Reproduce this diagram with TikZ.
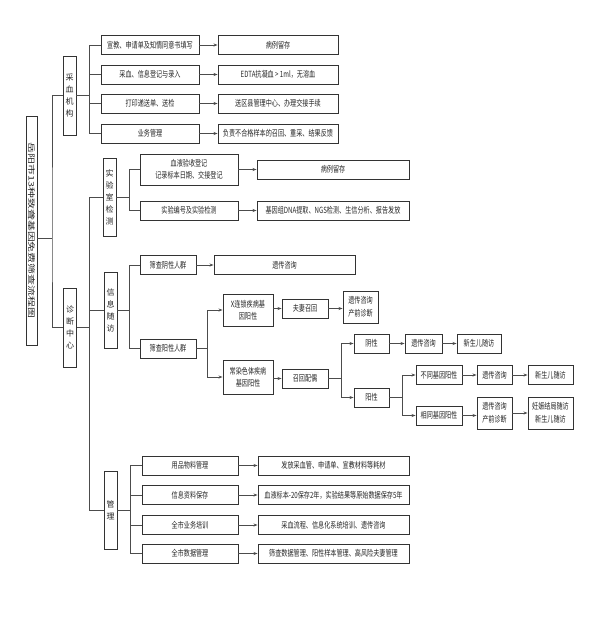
\documentclass[tikz,border=0pt]{standalone}
\usepackage{fontspec}
\newfontfamily\cjk{Noto Sans CJK SC}[FakeStretch=0.72]
\newfontfamily\cjkv{Noto Sans CJK SC}
\newfontfamily\cjkt{Noto Sans CJK SC}[FakeStretch=1.45]
\usetikzlibrary{arrows.meta}
\begin{document}
\begin{tikzpicture}[x=1pt,y=-1pt,
  box/.style={draw=black!80, line width=0.9pt, fill=white, inner sep=0pt, align=center,
    font=\cjk\fontsize{8.5}{12.5}\selectfont, text=black!85},
  vbox/.style={box, font=\cjkv\fontsize{8}{12}\selectfont},
  wh/.style 2 args={minimum width=#1pt, minimum height=#2pt},
  link/.style={draw=black!70, line width=0.8pt},
  arr/.style={link, -{Stealth[length=4pt,width=3pt]}}]
\useasboundingbox (0,0) rectangle (591,621);

% title
\node[box, rotate=-90, wh={229}{11}, font=\cjkt\fontsize{7.5}{9}\selectfont] (title) at (31.5,230.5) {岳阳市13种致聋基因免费筛查流程图};
\coordinate (j0) at (52,238);

% sampling institution
\node[vbox, wh={13}{79}] (caixue) at (69.5,95.5) {采\\血\\机\\构};
\node[box, wh={98}{19}] (a1) at (150,45) {宣教、申请单及知情同意书填写};
\node[box, wh={98}{19}] (a2) at (150,74.5) {采血、信息登记与录入};
\node[box, wh={98}{19}] (a3) at (150,103.5) {打印递送单、送检};
\node[box, wh={98}{19}] (a4) at (150,133.5) {业务管理};
\node[box, wh={120}{19}] (b1) at (278,45) {病例留存};
\node[box, wh={120}{19}] (b2) at (278,74.5) {EDTA抗凝血 > 1ml，无溶血};
\node[box, wh={120}{19}] (b3) at (278,103.5) {送区县管理中心、办理交接手续};
\node[box, wh={120}{19}] (b4) at (278,133.5) {负责不合格样本的召回、重采、结果反馈};
\coordinate (j1) at (89,95.5);

% diagnosis centre
\node[vbox, wh={13}{79}] (zhenduan) at (70,327.5) {诊\\断\\中\\心};
\coordinate (j2) at (89,327.5);

\node[vbox, wh={13}{78}] (shiyan) at (109.5,197) {实\\验\\室\\检\\测};
\coordinate (j3) at (129,197);
\node[box, wh={98}{31}] (c1) at (189,169.5) {血液验收登记\\记录标本日期、交接登记};
\node[box, wh={98}{19}] (c2) at (189,210.5) {实验编号及实验检测};
\node[box, wh={152}{19}] (d1) at (333,169.5) {病例留存};
\node[box, wh={152}{19}] (d2) at (333,210.5) {基因组DNA提取、NGS检测、生信分析、报告发放};

\node[vbox, wh={13}{76}] (suifang) at (110.5,310) {信\\息\\随\\访};
\coordinate (j4) at (129,310);
\node[box, wh={56}{19}] (e1) at (168,265) {筛查阴性人群};
\node[box, wh={56}{19}] (e2) at (168,348.5) {筛查阳性人群};
\node[box, wh={141}{19}] (f1) at (284.5,265) {遗传咨询};
\coordinate (j5) at (207,348.5);
\node[box, wh={50}{32}] (g1) at (248,310) {X连锁疾病基\\因阳性};
\node[box, wh={50}{34}] (g2) at (248,377) {常染色体疾病\\基因阳性};
\node[box, wh={46}{19}] (h1) at (305,308.5) {夫妻召回};
\node[box, wh={35}{32}] (h2) at (360.5,307) {遗传咨询\\产前诊断};
\node[box, wh={46}{19}] (k1) at (305,378.5) {召回配偶};
\coordinate (j6) at (341,378.5);
\node[box, wh={35}{19}] (m1) at (371.5,343.5) {阴性};
\node[box, wh={35}{19}] (m2) at (371.5,397.5) {阳性};
\node[box, wh={37}{19}] (n1) at (423.5,343.5) {遗传咨询};
\node[box, wh={44}{19}] (n2) at (479,343.5) {新生儿随访};
\coordinate (j7) at (402,397.5);
\node[box, wh={46}{19}] (p1) at (439,375) {不同基因阳性};
\node[box, wh={46}{19}] (p2) at (439,415.5) {相同基因阳性};
\node[box, wh={35}{19}] (q1) at (494.5,375) {遗传咨询};
\node[box, wh={45}{19}] (q2) at (550.5,375) {新生儿随访};
\node[box, wh={35}{32}] (r1) at (494.5,413) {遗传咨询\\产前诊断};
\node[box, wh={45}{32}] (r2) at (550.5,413) {妊娠结局随访\\新生儿随访};

\node[vbox, wh={13}{78}] (guanli) at (110.5,510) {管\\理};
\coordinate (j8) at (130,510);
\node[box, wh={96}{19}] (s1) at (190,465.5) {用品物料管理};
\node[box, wh={96}{19}] (s2) at (190,495) {信息资料保存};
\node[box, wh={96}{19}] (s3) at (190,525) {全市业务培训};
\node[box, wh={96}{19}] (s4) at (190,553.5) {全市数据管理};
\node[box, wh={151}{19}] (t1) at (333.5,465.5) {发放采血管、申请单、宣教材料等耗材};
\node[box, wh={151}{19}] (t2) at (333.5,495) {血液标本-20保存2年，实验结果等原始数据保存5年};
\node[box, wh={151}{19}] (t3) at (333.5,525) {采血流程、信息化系统培训、遗传咨询};
\node[box, wh={151}{19}] (t4) at (333.5,553.5) {筛查数据管理、阳性样本管理、高风险夫妻管理};

% connectors
\draw[link] (title.north |- j0) -- (j0);
\draw[link] (caixue.west) -| (j0) |- (zhenduan.west);

\draw[link] (caixue.east) -- (j1);
\foreach \n in {a1,a2,a3,a4} \draw[link] (j1) |- (\n.west);
\draw[arr] (a1) -- (b1);
\draw[arr] (a2) -- (b2);
\draw[arr] (a3) -- (b3);
\draw[arr] (a4) -- (b4);

\draw[link] (zhenduan.east) -- (j2);
\foreach \n in {shiyan,suifang,guanli} \draw[link] (j2) |- (\n.west);

\draw[link] (shiyan.east) -- (j3);
\foreach \n in {c1,c2} \draw[link] (j3) |- (\n.west);
\draw[arr] (c1) -- (d1);
\draw[arr] (c2) -- (d2);

\draw[link] (suifang.east) -- (j4);
\foreach \n in {e1,e2} \draw[link] (j4) |- (\n.west);
\draw[arr] (e1) -- (f1);
\draw[link] (e2.east) -- (j5);
\draw[arr] (j5) |- (g1.west);
\draw[arr] (j5) |- (g2.west);
\draw[arr] (h1.west -| g1.east) -- (h1.west);
\draw[arr] (h1.east) -- (h1.east -| h2.west);
\draw[arr] (k1.west -| g2.east) -- (k1.west);
\draw[link] (k1.east) -- (j6);
\draw[arr] (j6) |- (m1.west);
\draw[arr] (j6) |- (m2.west);
\draw[arr] (m1) -- (n1);
\draw[arr] (n1) -- (n2);
\draw[link] (m2.east) -- (j7);
\draw[arr] (j7) |- (p1.west);
\draw[arr] (j7) |- (p2.west);
\draw[arr] (p1) -- (q1);
\draw[arr] (q1) -- (q2);
\draw[arr] (p2.east) -- (p2.east -| r1.west);
\draw[arr] (r1) -- (r2);

\draw[link] (guanli.east) -- (j8);
\foreach \n in {s1,s2,s3,s4} \draw[link] (j8) |- (\n.west);
\draw[arr] (s1) -- (t1);
\draw[arr] (s2) -- (t2);
\draw[arr] (s3) -- (t3);
\draw[arr] (s4) -- (t4);
\end{tikzpicture}
\end{document}
